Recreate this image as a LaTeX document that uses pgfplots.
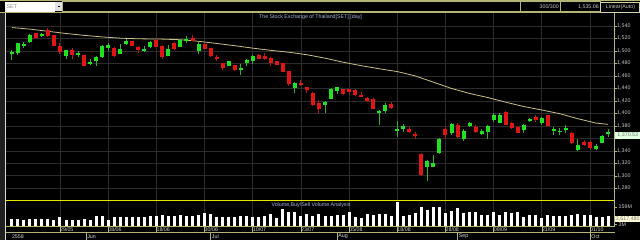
\documentclass[border=0pt]{standalone}
\usepackage{pgfplots}
\pgfplotsset{compat=1.18}
\usepackage{pgfplotstable}
\usepackage{fontspec}
\setmainfont{Liberation Sans}
\definecolor{gridc}{HTML}{2C2C2C}
\definecolor{khaki}{HTML}{B4B474}
\definecolor{yel}{HTML}{E6E600}
\definecolor{upc}{HTML}{20E020}
\definecolor{dnc}{HTML}{E01616}
\definecolor{upw}{HTML}{30B030}
\definecolor{dnw}{HTML}{B81616}
\definecolor{mac}{HTML}{C8C088}
\definecolor{lbl}{HTML}{C8C8C8}
\definecolor{ttl}{HTML}{A8B8DC}
\definecolor{datec}{HTML}{D8D8D8}
\newcommand{\sz}{\fontsize{5.3bp}{6bp}\selectfont}

\pgfplotstableread{
i o h l c
0 1495 1502 1485 1499
1 1496 1513 1494 1512
2 1509 1515 1505 1511
3 1514 1527 1513 1526
5 1523.5 1529 1523 1526.5
9 1491.5 1502 1487 1501
11 1494 1500.5 1491 1497
13 1479 1487 1477 1483
14 1484.5 1491.5 1476 1491
15 1490 1509.6 1489.3 1508
16 1505 1512 1500.5 1509
18 1495.7 1511 1495 1503.7
19 1511 1518.7 1510 1516
22 1500.5 1508 1499 1503.7
23 1506 1516.5 1505 1515
26 1492 1509 1491.5 1503.7
28 1507 1518.7 1506 1517.6
29 1515.5 1524 1512.3 1519.7
31 1500 1514.4 1495.2 1511
36 1476.5 1484.5 1476 1484
38 1469.6 1479 1461 1472.8
39 1481.3 1487.7 1476 1485.6
40 1484.5 1494 1479 1492
47 1440.8 1450.4 1433.3 1449.3
52 1414.1 1420.5 1401.3 1418.4
53 1423.7 1440.8 1422.7 1439.7
54 1435.5 1443 1431.2 1441.9
61 1400.3 1405.6 1382.1 1404.5
62 1404.5 1417.3 1400.3 1414.1
64 1371.5 1388.5 1363 1374.7
65 1375.7 1383.2 1370.4 1380
69 1314.7 1325.3 1292.3 1324.3
70 1314.7 1332.8 1314 1321.1
71 1337.1 1360.5 1335 1358.4
73 1368 1384 1364.8 1382.9
75 1359.5 1375.5 1355.2 1371.2
76 1379.7 1386 1378.7 1384
78 1367 1374.4 1365.9 1372.3
79 1370.1 1380.8 1359.5 1379.7
80 1389.3 1400 1386.1 1396.8
81 1385 1400 1384 1396.8
85 1373.3 1382.9 1369 1381.9
86 1387.2 1392.5 1386.1 1391.5
88 1384 1393.6 1381.9 1392.5
90 1372.3 1377.6 1364.8 1375.5
91 1371.2 1376.5 1365.9 1372.3
92 1373.3 1380.8 1369 1376.5
94 1341.3 1358.4 1340.3 1348.8
97 1343.5 1350.9 1341.3 1347.7
98 1353.1 1364.8 1352 1363.7
99 1366.5 1375.5 1362.7 1370.5
}\up

\pgfplotstableread{
i o h l c
4 1528 1529 1519 1520
6 1534 1537 1523 1524
7 1525.6 1526 1508 1508.5
8 1508 1513 1495 1498
10 1502 1504 1487 1493
12 1493 1494 1476 1476.5
17 1505 1506 1491 1492
20 1516 1516.5 1507.5 1508
21 1507 1507.5 1497 1502
24 1517 1520 1506 1507
25 1508 1509 1487 1491
27 1513.3 1514.4 1501.6 1502.7
30 1520.3 1525 1516 1516.5
32 1511 1512.3 1502.7 1503.7
33 1504.8 1505.3 1491 1492
34 1491 1494 1484.5 1486.7
35 1480.3 1481.3 1469.6 1472.8
37 1477 1478 1468.5 1469.6
41 1494 1495.2 1486.7 1487.7
42 1492 1496 1485.6 1486.7
43 1488.8 1490 1476 1480.3
44 1483.5 1484.5 1477 1478
45 1480.3 1481.3 1466 1466.4
46 1467.5 1468.5 1444 1447.2
48 1448.3 1453.6 1444 1445
49 1441.9 1443 1433.3 1437.6
50 1433.3 1434.4 1412 1413
51 1417.3 1421.6 1400.3 1407.7
55 1438.7 1439.7 1429 1431.2
56 1438.7 1439.7 1433.3 1434.4
57 1437.6 1439.7 1428 1430.1
58 1430 1434.4 1426 1427
59 1424.8 1427 1418.4 1420.5
60 1423.7 1424.8 1406.7 1407.7
63 1415.2 1418.4 1407.7 1408.8
66 1374.7 1378.9 1369.3 1370.4
67 1367.2 1370.4 1358.7 1365
68 1335 1337 1299.7 1300.8
72 1374.4 1377.6 1359.5 1364.8
74 1381.9 1384 1360.5 1361.6
77 1378.7 1381.9 1369 1370.1
82 1402.1 1403.2 1380.8 1381.9
83 1384 1386.1 1374.4 1376.5
84 1378.7 1379.7 1368 1369
87 1394.7 1397.9 1386.1 1389.3
89 1396.8 1397.9 1378.7 1379.7
93 1369 1370.1 1351.5 1352
95 1354.1 1357.3 1347.7 1348.8
96 1354.1 1355.2 1343.5 1344.5
}\down

\pgfplotstableread{
i m
0 1537.5
3 1535
6 1531.5
9 1528
12 1525
15 1522.5
18 1520.5
21 1519.5
25 1519
28 1518
31 1515.5
34 1512
37 1508.5
40 1504.5
43 1501
46 1498
49 1494
52 1488.5
55 1482
58 1476.5
61 1471.5
64 1467
67 1460
70 1450
73 1440
76 1432
79 1425.5
82 1418
85 1411
88 1405.5
91 1399.5
94 1391.5
97 1384.5
99 1382.5
}\ma

\pgfplotstableread{
i v
0 23
1 23
2 21
3 23
4 23
5 24
6 24
7 21
8 30
9 20
10 21
11 21
12 22
13 21
14 33
15 31
16 20
17 28
18 30
19 29
20 29
21 29
22 29
23 31
24 33
25 36
26 33
27 31
28 34
29 33
30 32
31 34
32 40
33 37
34 30
35 30
36 29
37 30
38 33
39 33
40 30
41 30
42 32
43 37
44 26
45 52
46 44
47 43
48 33
49 37
50 33
51 39
52 33
53 33
54 34
55 35
56 44
57 30
58 27
59 39
60 35
61 37
62 37
63 32
64 74
65 33
66 35
67 42
68 58
69 50
70 60
71 60
72 40
73 46
74 56
75 40
76 43
77 43
78 36
79 36
80 43
81 36
82 43
83 40
84 43
85 30
86 36
87 36
88 26
89 36
90 33
91 33
92 33
93 36
94 38
95 36
96 36
97 28
98 28
99 33
}\vol

\pgfplotsset{
  chartx/.style={
    scale only axis, anchor=south west, width=608bp,
    xmin=-0.963, xmax=99.98,
    axis line style={draw=none},
    xtick={8,16,...,96}, xticklabels={},
    major x tick style={draw=none},
  }
}

\begin{document}
\begin{tikzpicture}
\useasboundingbox (0,0) rectangle (640bp,240bp);
\fill[black] (0,0) rectangle (640bp,240bp);
\fill[black!88!white] (0,0) rectangle (5bp,228bp);

% ---------- price panel ----------
\begin{axis}[chartx, at={(6bp,40bp)}, height=188bp,
  ymin=1261.4, ymax=1562.4,
  ytick={1280,1300,...,1540}, ytick pos=right, yticklabel pos=right,
  tick align=outside, major tick length=2.5bp,
  major y tick style={khaki, line width=0.6bp},
  xmajorgrids, ymajorgrids, grid style={gridc, line width=0.8bp},
  scaled y ticks=false,
  /pgf/number format/.cd, fixed, 1000 sep={,}, assume math mode=true,
  /pgfplots/.cd,
  yticklabel style={font=\sz, text=lbl, anchor=west, inner sep=0pt, xshift=0.5bp},
]
\addplot[mac, line width=0.8bp] table[x=i, y=m] {\ma};
\addplot[draw=none, forget plot, error bars/.cd, y dir=both, y explicit, error mark=none,
  error bar style={draw=upw, line width=1bp}]
  table[x=i, y expr={(\thisrow{h}+\thisrow{l})/2}, y error expr={(\thisrow{h}-\thisrow{l})/2}] {\up};
\addplot[draw=none, forget plot, error bars/.cd, y dir=both, y explicit, error mark=none,
  error bar style={draw=dnw, line width=1bp}]
  table[x=i, y expr={(\thisrow{h}+\thisrow{l})/2}, y error expr={(\thisrow{h}-\thisrow{l})/2}] {\down};
\addplot[draw=none, forget plot, error bars/.cd, y dir=both, y explicit, error mark=none,
  error bar style={draw=upc, line width=4bp}]
  table[x=i, y expr={(\thisrow{o}+\thisrow{c})/2}, y error expr={max(abs(\thisrow{c}-\thisrow{o})/2,0.9)}] {\up};
\addplot[draw=none, forget plot, error bars/.cd, y dir=both, y explicit, error mark=none,
  error bar style={draw=dnc, line width=4bp}]
  table[x=i, y expr={(\thisrow{o}+\thisrow{c})/2}, y error expr={max(abs(\thisrow{c}-\thisrow{o})/2,0.9)}] {\down};
\end{axis}

% ---------- volume panel ----------
\begin{axis}[chartx, at={(6bp,13.3bp)}, height=26.7bp,
  ymin=0, ymax=80, ytick=\empty,
  xmajorgrids, grid style={gridc, line width=0.8bp},
]
\addplot[ycomb, draw=white, line width=3bp] table[x=i, y=v] {\vol};
\end{axis}

% ---------- date row ----------
\begin{axis}[chartx, at={(6bp,7.3bp)}, height=6bp, clip=false,
  ymin=0, ymax=1, ytick=\empty,
  xmajorgrids, grid style={khaki, line width=0.7bp},
]
\addplot[draw=none] coordinates {(0,0.5)};
\foreach \p/\t in {8/29\slash05,16/08\slash06,24/18\slash06,32/30\slash06,40/10\slash07,48/23\slash07,56/05\slash08,64/18\slash08,72/28\slash08,80/09\slash09,88/21\slash09,96/01\slash10}{
  \edef\temp{\noexpand\node[anchor=west, font=\noexpand\sz, text=datec, inner sep=0pt] at (axis cs:\p,0.45) {\t};}
  \temp
}
\end{axis}

% ---------- month row ----------
\begin{axis}[chartx, at={(6bp,0bp)}, height=7.3bp, clip=false,
  ymin=0, ymax=1, ytick=\empty,
  xtick={12.3,33,54,74,96},
  xmajorgrids, grid style={khaki, line width=0.7bp},
]
\addplot[draw=none] coordinates {(0,0.5)};
\node[anchor=west, font=\sz, text=datec, inner sep=0pt] at (axis cs:0.0,0.5) {2558};
\node[anchor=west, font=\sz, text=datec, inner sep=0pt] at (axis cs:12.5,0.5) {Jun};
\node[anchor=west, font=\sz, text=datec, inner sep=0pt] at (axis cs:33.2,0.5) {Jul};
\node[anchor=west, font=\sz, text=datec, inner sep=0pt] at (axis cs:54.2,0.5) {Aug};
\node[anchor=west, font=\sz, text=datec, inner sep=0pt] at (axis cs:74.2,0.5) {Sep};
\node[anchor=west, font=\sz, text=datec, inner sep=0pt] at (axis cs:96.2,0.5) {Oct};
\end{axis}

% ---------- frame lines ----------
\draw[yel, line width=0.9bp] (5.5bp,40bp) -- (614.5bp,40bp);
\draw[khaki!90!yellow, line width=0.8bp] (5.5bp,13.3bp) -- (614.5bp,13.3bp);
\draw[khaki, line width=0.7bp] (5.5bp,7.3bp) -- (614.5bp,7.3bp);
\draw[khaki, line width=0.9bp] (614.5bp,13.3bp) -- (614.5bp,228bp);
\draw[white!85!black, line width=1bp] (5.5bp,0) -- (5.5bp,228bp);

% titles
\node[font=\sz, text=ttl, inner sep=0pt] at (310.5bp,222.7bp) {The Stock Exchange of Thailand[SET] [day]};
\node[font=\sz, text=ttl, inner sep=0pt] at (311bp,35bp) {Volume,Buy/Sell Volume Analysis};

% right-side boxes
\node[fill=green!12!white, text=black!55, font=\sz, inner sep=0.6bp, anchor=west, minimum height=6.7bp, minimum width=25.5bp] at (614.8bp,104.6bp) {1,370.53};
\draw[khaki, line width=0.6bp] (614.5bp,33bp) -- (617bp,33bp);
\draw[khaki, line width=0.6bp] (614.5bp,15.7bp) -- (617bp,15.7bp);
\node[font=\sz, text=lbl, inner sep=0pt, anchor=west] at (618.5bp,33bp) {159M};
\node[font=\sz, text=lbl, inner sep=0pt, anchor=west] at (618.5bp,15.6bp) {3M};
\node[fill=yellow!15!white, text=black!55, font=\sz, inner sep=0.6bp, anchor=west, minimum height=6.5bp, minimum width=25.5bp] at (614.8bp,21bp) {3,617,480};

% ---------- top bar ----------
\draw[khaki, line width=0.8bp] (0,239.5bp) -- (640bp,239.5bp);
\draw[khaki, line width=0.8bp] (0,228bp) -- (640bp,228bp);
\fill[white] (5.3bp,228.3bp) rectangle (55bp,238.3bp);
\node[font=\sz, text=black!45, anchor=west, inner sep=0pt] at (6.5bp,233.4bp) {SET};
\fill[black!12!white] (55bp,228.5bp) rectangle (62bp,238.3bp);
\fill[black] (57.5bp,233bp) rectangle (59.5bp,233.8bp);
\draw[khaki, line width=0.8bp, fill=black] (62.8bp,228.3bp) rectangle (520bp,238.3bp);
\draw[khaki, line width=0.8bp] (520bp,228.3bp) rectangle (560bp,238.3bp);
\draw[khaki, line width=0.8bp] (560bp,228.3bp) rectangle (600bp,238.3bp);
\draw[khaki!60!white, line width=0.8bp] (600.8bp,227.6bp) rectangle (639.5bp,237.5bp);
\node[font=\sz, text=lbl, anchor=east, inner sep=0pt] at (559bp,233.3bp) {300/300};
\node[font=\sz, text=lbl, anchor=east, inner sep=0pt] at (599bp,233.3bp) {1,535.06};
\node[font=\sz, text=lbl, inner sep=0pt] at (620.5bp,232.6bp) {Linear(Auto)};
\end{tikzpicture}
\end{document}
